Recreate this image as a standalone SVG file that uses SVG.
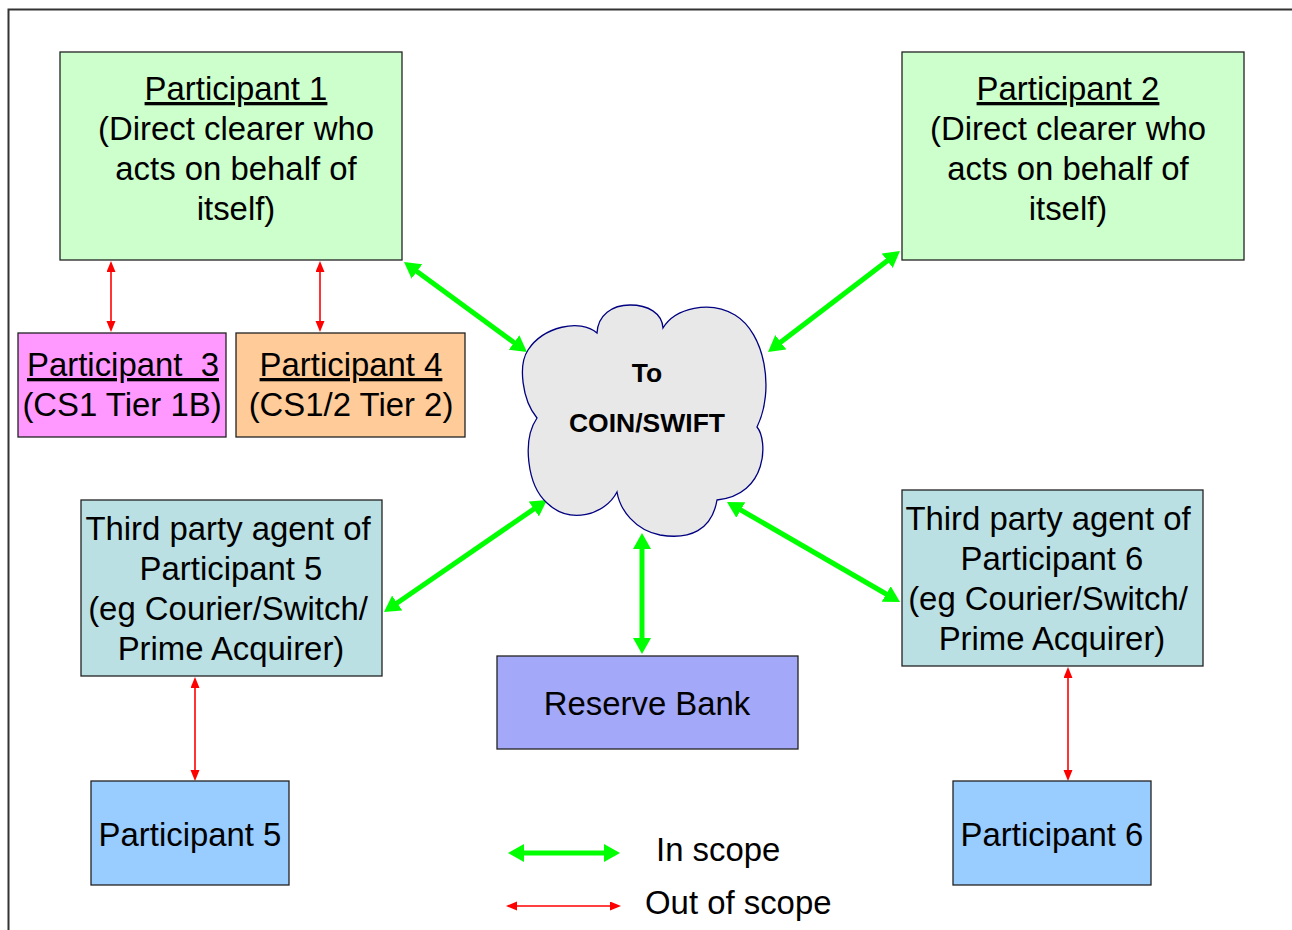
<svg xmlns="http://www.w3.org/2000/svg" width="1292" height="930" viewBox="0 0 1292 930">
<style>
.box{stroke:#222;stroke-width:1.3}
.t{font-family:"Liberation Sans",Arial,sans-serif;font-size:32.9px;fill:#000;text-anchor:middle}
.u{text-decoration:underline}
.b{font-family:"Liberation Sans",Arial,sans-serif;font-size:26.5px;font-weight:bold;fill:#000;text-anchor:middle}
.g{stroke:#00FF00;stroke-width:5;fill:none;marker-start:url(#gh);marker-end:url(#gh)}
.r{stroke:#FF0000;stroke-width:1.6;fill:none;marker-start:url(#rh);marker-end:url(#rh)}
</style>
<defs>
<marker id="gh" markerUnits="userSpaceOnUse" markerWidth="18" markerHeight="20" refX="8" refY="9" orient="auto-start-reverse"><path d="M0,0 L16,9 L0,18 z" fill="#00FF00"/></marker>
<marker id="rh" markerUnits="userSpaceOnUse" markerWidth="12" markerHeight="10" refX="5" refY="4.5" orient="auto-start-reverse"><path d="M0,0 L11,4.5 L0,9 z" fill="#FF0000"/></marker>
</defs>
<rect x="0" y="0" width="1292" height="930" fill="#fff"/>
<rect x="8.5" y="9.5" width="1300" height="940" fill="none" stroke="#333" stroke-width="2"/>

<g id="connectors">
<line class="g" x1="410.5" y1="266.7" x2="520.5" y2="347.3"/>
<line class="g" x1="893.6" y1="255.9" x2="774.4" y2="347.1"/>
<line class="g" x1="390.6" y1="607.5" x2="540.4" y2="504.5"/>
<line class="g" x1="893.1" y1="598" x2="733.9" y2="506"/>
<line class="g" x1="642" y1="646" x2="642" y2="541"/>
<line class="r" x1="111" y1="267" x2="111" y2="326"/>
<line class="r" x1="320" y1="267" x2="320" y2="326"/>
<line class="r" x1="195" y1="683" x2="195" y2="775"/>
<line class="r" x1="1068" y1="673" x2="1068" y2="775"/>
</g>

<g id="p1">
<rect class="box" x="60" y="52" width="342" height="208" fill="#CCFFCC"/>
<text class="t u" x="236" y="100">Participant 1</text>
<text class="t" x="236" y="140">(Direct clearer who</text>
<text class="t" x="236" y="180">acts on behalf of</text>
<text class="t" x="236" y="220">itself)</text>
</g>
<g id="p2">
<rect class="box" x="902" y="52" width="342" height="208" fill="#CCFFCC"/>
<text class="t u" x="1068" y="100">Participant 2</text>
<text class="t" x="1068" y="140">(Direct clearer who</text>
<text class="t" x="1068" y="180">acts on behalf of</text>
<text class="t" x="1068" y="220">itself)</text>
</g>
<g id="p3">
<rect class="box" x="18" y="333" width="208" height="104" fill="#FF99FF"/>
<text class="t u" x="123" y="376" xml:space="preserve">Participant  3</text>
<text class="t" x="122" y="416">(CS1 Tier 1B)</text>
</g>
<g id="p4">
<rect class="box" x="236" y="333" width="229" height="104" fill="#FFCC99"/>
<text class="t u" x="351" y="376">Participant 4</text>
<text class="t" x="351" y="416">(CS1/2 Tier 2)</text>
</g>
<g id="cloud">
<path d="M537,418 C522,400 518,365 528,350 C543,327 580,318 597,333 C598,315 612,305 630,305 C648,305 662,313 663,328 C675,308 710,300 735,315 C765,333 775,390 757,427 C768,440 768,495 717,500 C712,530 690,540 660,535 C635,530 620,510 617,492 C605,515 570,525 547,503 C527,485 522,440 537,418 Z" fill="#E8E8E8" stroke="#000080" stroke-width="1.3"/>
<text class="b" x="647" y="382">To</text>
<text class="b" x="647" y="432">COIN/SWIFT</text>
</g>
<g id="tpa5">
<rect class="box" x="81" y="500" width="301" height="176" fill="#BAE0E3"/>
<text class="t" x="228" y="540">Third party agent of</text>
<text class="t" x="231" y="580">Participant 5</text>
<text class="t" x="228" y="620">(eg Courier/Switch/</text>
<text class="t" x="231" y="660">Prime Acquirer)</text>
</g>
<g id="tpa6">
<rect class="box" x="902" y="490" width="301" height="176" fill="#BAE0E3"/>
<text class="t" x="1048" y="530">Third party agent of</text>
<text class="t" x="1052" y="570">Participant 6</text>
<text class="t" x="1048" y="610">(eg Courier/Switch/</text>
<text class="t" x="1052" y="650">Prime Acquirer)</text>
</g>
<g id="reserve">
<rect class="box" x="497" y="656" width="301" height="93" fill="#A3A8F8"/>
<text class="t" x="647" y="715">Reserve Bank</text>
</g>
<g id="p5">
<rect class="box" x="91" y="781" width="198" height="104" fill="#99CCFF"/>
<text class="t" x="190" y="846">Participant 5</text>
</g>
<g id="p6">
<rect class="box" x="953" y="781" width="198" height="104" fill="#99CCFF"/>
<text class="t" x="1052" y="846">Participant 6</text>
</g>
<g id="legend">
<line class="g" x1="516" y1="853" x2="612" y2="853"/>
<line class="r" x1="512" y1="906" x2="615" y2="906"/>
<text class="t" x="656" y="861" style="text-anchor:start">In scope</text>
<text class="t" x="645" y="914" style="text-anchor:start">Out of scope</text>
</g>
</svg>
